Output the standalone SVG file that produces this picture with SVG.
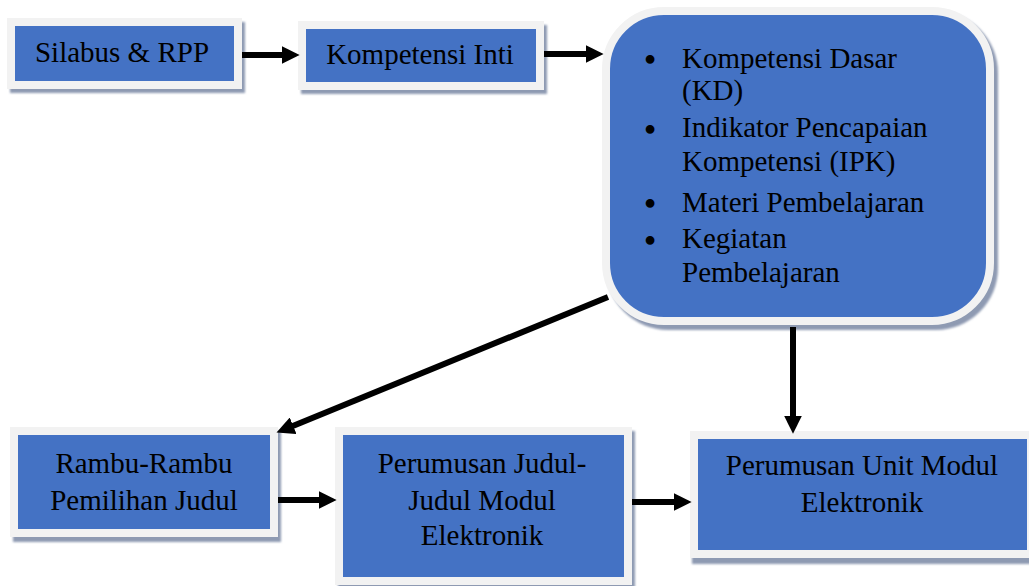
<svg xmlns="http://www.w3.org/2000/svg" width="1029" height="586" viewBox="0 0 1029 586">
  <defs>
    <filter id="blur" x="-5%" y="-5%" width="110%" height="110%">
      <feGaussianBlur stdDeviation="0.8"/>
    </filter>
    <marker id="arrow" markerUnits="userSpaceOnUse" markerWidth="18" markerHeight="18" refX="6" refY="8.5" orient="auto" viewBox="0 0 17 17">
      <path d="M0,0 L17,8.5 L0,17 z" fill="#000"/>
    </marker>
  </defs>
  <style>
    .shadow { fill: #8e9ab2; filter: url(#blur); }
    .box { fill: #4472c4; stroke: #f2f2f2; stroke-width: 8; }
    .lbl { font-family: 'Liberation Serif', 'Times New Roman', serif; font-size: 29px; fill: #000; }
    .c { text-anchor: middle; }
    .bul { font-family: 'DejaVu Serif', 'DejaVu Sans', serif; font-size: 30px; text-anchor: middle; fill: #000; }
    .conn { stroke: #000; stroke-width: 6; fill: none; marker-end: url(#arrow); }
  </style>
  <rect width="1029" height="586" fill="#fff"/>

  <g id="node-silabus">
    <rect class="shadow" x="10" y="22" width="235" height="71"/>
    <rect class="box" x="11" y="22" width="227" height="63"/>
    <text class="lbl c" x="122" y="62">Silabus &amp; RPP</text>
  </g>

  <g id="node-kompetensi-inti">
    <rect class="shadow" x="301" y="25" width="246" height="69"/>
    <rect class="box" x="302" y="25" width="238" height="61"/>
    <text class="lbl c" x="420" y="64">Kompetensi Inti</text>
  </g>

  <g id="node-kd">
    <rect class="shadow" x="606" y="11" width="392" height="319" rx="62"/>
    <rect class="box" x="606" y="11" width="384" height="310" rx="58"/>
    <text class="bul" x="650" y="71">•</text>
    <text class="lbl" x="682" y="68">Kompetensi Dasar</text>
    <text class="lbl" x="682" y="100">(KD)</text>
    <text class="bul" x="650" y="141">•</text>
    <text class="lbl" x="682" y="137">Indikator Pencapaian</text>
    <text class="lbl" x="682" y="171">Kompetensi (IPK)</text>
    <text class="bul" x="650" y="215">•</text>
    <text class="lbl" x="682" y="212">Materi Pembelajaran</text>
    <text class="bul" x="650" y="252">•</text>
    <text class="lbl" x="682" y="248">Kegiatan</text>
    <text class="lbl" x="682" y="282">Pembelajaran</text>
  </g>

  <g id="node-rambu">
    <rect class="shadow" x="13" y="431" width="268" height="111"/>
    <rect class="box" x="14" y="431" width="260" height="102"/>
    <text class="lbl c" x="144" y="473">Rambu-Rambu</text>
    <text class="lbl c" x="144" y="510">Pemilihan Judul</text>
  </g>

  <g id="node-judul">
    <rect class="shadow" x="338" y="431" width="297" height="160"/>
    <rect class="box" x="339" y="431" width="289" height="150"/>
    <text class="lbl c" x="482" y="473">Perumusan Judul-</text>
    <text class="lbl c" x="482" y="510">Judul Modul</text>
    <text class="lbl c" x="482" y="545">Elektronik</text>
  </g>

  <g id="node-unit">
    <rect class="shadow" x="692" y="437" width="345" height="127"/>
    <rect class="box" x="694" y="435" width="337" height="119"/>
    <text class="lbl c" x="862" y="475">Perumusan Unit Modul</text>
    <text class="lbl c" x="862" y="512">Elektronik</text>
  </g>

  <g id="connectors">
    <line class="conn" x1="242" y1="55" x2="288" y2="55"/>
    <line class="conn" x1="544" y1="54" x2="592" y2="54"/>
    <line class="conn" x1="793" y1="327" x2="793" y2="422"/>
    <line class="conn" x1="608" y1="297" x2="287.3" y2="428.2"/>
    <line class="conn" x1="278" y1="500" x2="325" y2="500"/>
    <line class="conn" x1="632" y1="502" x2="680" y2="502"/>
  </g>
</svg>
